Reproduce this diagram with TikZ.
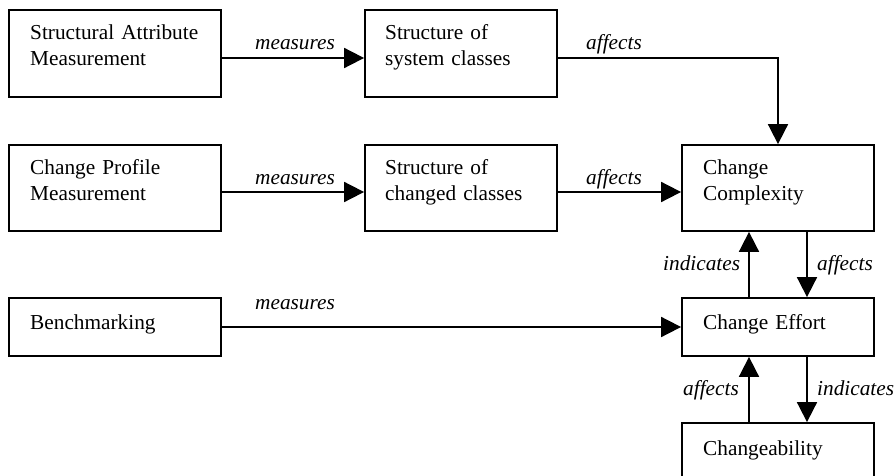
\documentclass[tikz,border=0pt]{standalone}
\usepackage{fontspec}
\setmainfont{Liberation Serif}
\usetikzlibrary{arrows.meta}

\begin{document}
\begin{tikzpicture}[x=1pt, y=-1pt,
  box/.style={draw, line width=1.8pt, rectangle, inner sep=0pt},
  txt/.style={anchor=base west, inner sep=0pt, text width=185pt, align=left,
    font=\fontsize{21.3}{26}\selectfont},
  lbl/.style={anchor=base west, inner sep=0pt,
    font=\fontsize{21.3}{26}\selectfont\itshape},
  arr/.style={line width=1.8pt, -{Triangle[length=20pt, width=20pt]}}]

  % page frame
  \clip (0,0) rectangle (894,476);
  \fill[white] (0,0) rectangle (894,476);

  % boxes
  \node[box, minimum width=212, minimum height=87] (sam) at (115,53.5) {};
  \node[box, minimum width=192, minimum height=87] (ssc) at (461,53.5) {};
  \node[box, minimum width=212, minimum height=86] (cpm) at (115,188) {};
  \node[box, minimum width=192, minimum height=86] (scc) at (461,188) {};
  \node[box, minimum width=192, minimum height=86] (cc)  at (778,188) {};
  \node[box, minimum width=212, minimum height=58] (bm)  at (115,327) {};
  \node[box, minimum width=192, minimum height=58] (ce)  at (778,327) {};
  \node[box, minimum width=192, minimum height=100] (cb) at (778,473) {};

  % box texts
  \node[txt] (tsam) at (30,40)   {Structural Attribute\\Measurement};
  \node[txt] (tssc) at (385,40)  {Structure of\\system classes};
  \node[txt] (tcpm) at (30,175)  {Change Profile\\Measurement};
  \node[txt] (tscc) at (385,175) {Structure of\\changed classes};
  \node[txt] (tcc)  at (703,175) {Change\\Complexity};
  \node[txt] (tbm)  at (30,329)  {Benchmarking};
  \node[txt] (tce)  at (703,329) {Change Effort};
  \node[txt] (tcb)  at (703,455) {Changeability};

  % connector levels
  \coordinate (r1) at (0,58);
  \coordinate (r2) at (0,192);
  \coordinate (r3) at (0,327);
  \coordinate (k)  at (778,58);
  \coordinate (up) at (749,0);
  \coordinate (dn) at (807,0);

  % connectors
  \draw[arr] (sam.east |- r1) -- (ssc.west |- r1);
  \draw[arr] (ssc.east |- r1) -- (k) -- (cc.north);
  \draw[arr] (cpm.east |- r2) -- (scc.west |- r2);
  \draw[arr] (scc.east |- r2) -- (cc.west |- r2);
  \draw[arr] (bm.east |- r3) -- (ce.west |- r3);
  \draw[arr] (ce.north -| up) -- (cc.south -| up);
  \draw[arr] (cc.south -| dn) -- (ce.north -| dn);
  \draw[arr] (cb.north -| up) -- (ce.south -| up);
  \draw[arr] (ce.south -| dn) -- (cb.north -| dn);

  % connector labels
  \node[lbl] (l1) at (255,50)  {measures};
  \node[lbl] (l2) at (586,50)  {affects};
  \node[lbl] (l3) at (255,184) {measures};
  \node[lbl] (l4) at (586,184) {affects};
  \node[lbl] (l5) at (255,309) {measures};
  \node[lbl] (l6) at (663,270) {indicates};
  \node[lbl] (l7) at (817,270) {affects};
  \node[lbl] (l8) at (683,395) {affects};
  \node[lbl] (l9) at (817,395) {indicates};
\end{tikzpicture}
\end{document}
